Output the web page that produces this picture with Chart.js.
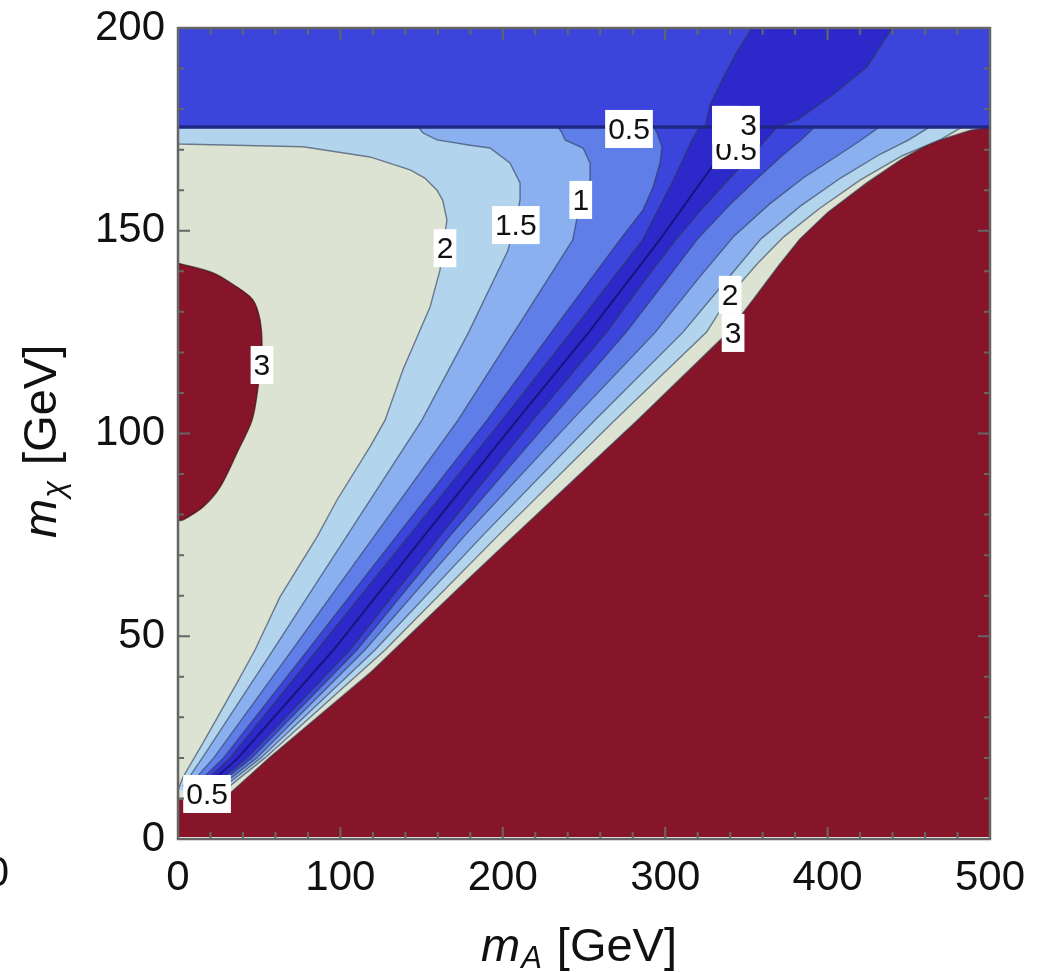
<!DOCTYPE html>
<html>
<head>
<meta charset="utf-8">
<script src="https://cdn.jsdelivr.net/npm/chart.js@4.4.1/dist/chart.umd.min.js"></script>
<style>
  html, body { margin: 0; padding: 0; background: #fff; }
</style>
</head>
<body>
<canvas id="contourChart" width="1046" height="972"></canvas>
<script>
// axis ticks
const xTicks = [0, 100, 200, 300, 400, 500];
const yTicks = [0, 50, 100, 150, 200];
const topEdgeY = 175.6; // discontinuity line (m_chi ~ m_t)

// contour lines, [m_A, m_chi], bottom -> top
const domain = [[0, 0.5], [500, 0.5], [500, 200], [0, 200]];
const edge3 = [[0, 9.6], [20, 10.2], [32, 11.3], [56.7, 20.2], [118, 40.9], [180, 64.6], [204, 73.7], [283, 103.3], [338.8, 125], [355, 133.5], [370, 141.5], [383, 148], [400, 154.5], [424, 161.8], [445, 167.5], [463, 171.6], [488, 174.8], [500, 175.6]];
const blob3 = [[0, 142], [21.6, 139.6], [36.3, 136.1], [46.2, 132.9], [50.5, 128], [51.7, 121.3], [49.3, 111.5], [45.6, 103.3], [36.3, 95.2], [25.9, 86.8], [15.4, 81.9], [3.1, 78.7], [0, 78.5]];

const left2 = [[0, 12.1], [3.1, 15.3], [15.4, 23.7], [36.3, 38.5], [47.4, 46.6], [62.8, 59.7], [85.6, 74.5], [97.9, 83.6], [118.2, 96.7], [127.5, 103.3], [138.5, 115.7], [155.2, 131.2], [161.3, 140.3], [165.6, 152.7], [163, 157.5], [159.5, 160], [152, 163], [142.9, 165], [118.2, 168.2], [77, 170.7], [0, 171.4]];
const right2 = [[27, 11.5], [53.5, 20], [127.5, 46.6], [197.5, 75], [269.1, 103.3], [325.5, 125], [340, 134.2], [357, 142], [373, 148.5], [395, 155.5], [420, 162.5], [446, 168.5], [470, 172.6], [483, 175.6]];

const left15 = [[3, 13], [15, 20], [58.5, 46.6], [104.4, 75], [150.2, 103.3], [179, 125], [203, 145], [207.5, 151.4], [210.6, 157.6], [210.6, 161.8], [204.4, 166.7], [192.1, 170.4], [179.8, 171.1], [159.5, 172.4], [150.9, 174.1], [148, 175.6]];
const right15 = [[25, 11.8], [51, 20], [121.3, 46.6], [188, 75], [256.8, 103.3], [311, 125], [337, 137.5], [359, 148], [383, 156], [408, 163], [432, 168.8], [450, 172.4], [463, 175.6]];

const left1 = [[6, 12.8], [22, 20], [70.2, 46.6], [121.4, 75], [172.4, 103.3], [207, 125], [243, 147.7], [247.5, 156.8], [253.7, 162.5], [253.7, 166.7], [249.4, 170.4], [238.3, 172.4], [236.5, 174.1], [234, 175.6]];
const right1 = [[23, 12], [48.5, 20], [115.1, 46.6], [177, 75], [242.6, 103.3], [294, 125], [320, 138], [342, 148.5], [364, 156.5], [385, 163], [406, 168.5], [420, 172.2], [432, 175.6]];

const left05 = [[9, 12.6], [28, 20], [80, 46.6], [135.2, 75], [190.3, 103.3], [230, 125], [272, 147.7], [286.3, 155.1], [292.5, 160.8], [296.8, 166.7], [298, 170.7], [295, 174.1], [293, 175.6]];
const right05 = [[21, 12.2], [45.5, 20], [110.2, 46.6], [168, 75], [229, 103.3], [276, 125], [300, 137.5], [320, 148], [340, 156.5], [357, 163], [372, 168.5], [384, 172.5], [392, 175.6]];

const leftCore = [[12, 12.5], [32, 20], [85.6, 46.6], [142.6, 75], [199.5, 103.3], [242, 125], [286, 147.7], [305, 162.5], [316, 172], [321, 175.6]];
const rightCore = [[19, 12.3], [42.5, 20], [105.9, 46.6], [162, 75], [218.6, 103.3], [264, 125], [287, 137.5], [307, 148], [324, 156], [340, 163], [354, 169], [364, 173.3], [369, 175.6]];
const coreCenter = [[16, 12.4], [37, 20], [95.7, 46.6], [152, 75], [208.7, 103.3], [253, 125], [296.5, 147.7], [322, 162], [340, 172], [346, 175.6]];

const topBand = [[0, topEdgeY], [500, topEdgeY], [500, 200], [0, 200]];
const topCore = [[324.5, 175.6], [327.6, 181], [335, 187.2], [343, 193.3], [353.4, 200], [439.7, 200], [424.3, 190.4], [401.5, 183], [381.2, 177.3], [368.8, 175.6]];

// contour labels
const labelText = ["0.5", "1", "1.5", "2", "3", "2", "3", "0.5", "0.5", "1.3"];
const labelX = [277.7, 248, 208, 164.4, 51.7, 340, 341.8, 17.9, 343.6, 343.6];
const labelY = [175.1, 157.6, 151.4, 145.7, 116.9, 134.2, 124.8, 11.1, 169.9, 176.1];

const red = "#86152a";
const contourLine = "rgba(45,55,80,0.6)";

function pts(list) {
  return list.map(([x, y]) => ({ x, y }));
}
function band(left, right) {
  return pts([...left, ...right.slice().reverse()]);
}

// bottom -> top
const layers = [
  { data: pts(domain), color: red, width: 0 },
  { data: pts([...edge3, [500, 200], [0, 200]]), color: "#dce3d2" },
  { data: pts(blob3), color: red, border: "rgba(60,20,20,0.7)", tension: 0.3 },
  { data: band([...left2, [0, topEdgeY]], right2), color: "#b3d4ed" },
  { data: band(left15, right15), color: "#8bb0f0" },
  { data: band(left1, right1), color: "#5f7ee8" },
  { data: band(left05, right05), color: "#3b45db" },
  { data: band(leftCore, rightCore), color: "#2c28c9" },
  { data: pts(coreCenter), fill: false, border: "rgba(20,15,110,0.8)", width: 2 },
  { data: pts(topBand), color: "#3b45db", width: 0 },
  { data: pts(topCore), color: "#2c28c9" },
  { data: pts([[0, topEdgeY], [500, topEdgeY]]), fill: false, border: "#1f2785", width: 3.5 },
];

const decorations = {
  id: "decorations",
  afterDatasetsDraw(chart) {
    const { ctx, scales: { x, y } } = chart;
    ctx.save();
    ctx.font = "30px 'Liberation Sans', Arial, sans-serif";
    ctx.textAlign = "center";
    ctx.textBaseline = "middle";
    labelText.forEach((t, i) => {
      const px = x.getPixelForValue(labelX[i]);
      const py = y.getPixelForValue(labelY[i]);
      const w = ctx.measureText(t).width + 6;
      ctx.fillStyle = "#fff";
      ctx.fillRect(px - w / 2, py - 19, w, 38);
      if (i === labelText.length - 1) {
        // the two labels printed on top of each other
        ctx.globalAlpha = 0.25;
        ctx.fillStyle = "#d08a30";
        ctx.fillText(t, px, py + 2);
        ctx.globalAlpha = 1;
        ctx.fillStyle = "#fff";
        ctx.fillRect(px - w / 2, py - 19, w / 2 + 2, 38);
        ctx.fillStyle = "#111";
        ctx.textAlign = "right";
        ctx.fillText("3", px + w / 2 - 3, py + 2);
        ctx.textAlign = "center";
      } else {
        ctx.fillStyle = "#111";
        ctx.fillText(t, px, py + 2);
      }
    });
    ctx.restore();
  },
  afterDraw(chart) {
    const { ctx, chartArea: a, scales: { x, y } } = chart;
    ctx.save();
    ctx.strokeStyle = "#666";
    ctx.lineWidth = 2;
    ctx.beginPath();
    for (let v = 0; v <= 500; v += 20) {
      const px = x.getPixelForValue(v);
      const len = v % 100 === 0 ? 12 : 7;
      ctx.moveTo(px, a.bottom); ctx.lineTo(px, a.bottom - len);
      ctx.moveTo(px, a.top); ctx.lineTo(px, a.top + len);
    }
    for (let v = 0; v <= 200; v += 10) {
      const py = y.getPixelForValue(v);
      const len = v % 50 === 0 ? 12 : 6;
      ctx.moveTo(a.left, py); ctx.lineTo(a.left + len, py);
      ctx.moveTo(a.right, py); ctx.lineTo(a.right - len, py);
    }
    ctx.stroke();
    ctx.lineWidth = 2.5;
    ctx.strokeRect(a.left, a.top, a.right - a.left, a.bottom - a.top);

    // axis titles
    ctx.fillStyle = "#111";
    ctx.textBaseline = "alphabetic";
    ctx.textAlign = "left";
    const fam = "'Liberation Sans', Arial, sans-serif";
    let cx = 481;
    ctx.font = "italic 47px " + fam;
    ctx.fillText("m", cx, 961);
    cx += ctx.measureText("m").width + 1;
    ctx.font = "italic 31px " + fam;
    ctx.fillText("A", cx, 968);
    cx += ctx.measureText("A").width + 15;
    ctx.font = "47px " + fam;
    ctx.fillText("[GeV]", cx, 961);

    ctx.translate(56, 538);
    ctx.rotate(-Math.PI / 2);
    cx = 0;
    ctx.font = "italic 47px " + fam;
    ctx.fillText("m", cx, 0);
    cx += ctx.measureText("m").width + 1;
    ctx.font = "italic 31px " + fam;
    ctx.fillText("\u03c7", cx, 8);
    cx += ctx.measureText("\u03c7").width + 16;
    ctx.font = "47px " + fam;
    ctx.fillText("[GeV]", cx, 0);
    ctx.restore();

    // clipped tick label of the neighbouring panel
    ctx.save();
    ctx.font = "42px " + fam;
    ctx.fillStyle = "#111";
    ctx.textAlign = "right";
    ctx.textBaseline = "middle";
    ctx.fillText("0", 9, 874);
    ctx.restore();
  }
};

const tickFont = { family: "'Liberation Sans', Arial, sans-serif", size: 42 };

function noPadding(s) {
  s.paddingTop = 0;
  s.paddingBottom = 0;
  s.paddingLeft = 0;
  s.paddingRight = 0;
}

new Chart(document.getElementById("contourChart"), {
  type: "scatter",
  data: {
    datasets: layers.map((l, i) => ({
      data: l.data,
      showLine: true,
      fill: l.fill === false ? false : "shape",
      backgroundColor: l.color || "transparent",
      borderColor: l.border || contourLine,
      borderWidth: l.width === undefined ? 1.4 : l.width,
      pointRadius: 0,
      pointHoverRadius: 0,
      tension: l.tension || 0,
      order: layers.length - i,
    })),
  },
  options: {
    responsive: false,
    animation: false,
    events: [],
    layout: { padding: { top: 28, right: 56, left: 0, bottom: 0 } },
    scales: {
      x: {
        type: "linear",
        min: 0,
        max: 500,
        afterFit: (s) => { s.height = 133; noPadding(s); },
        afterBuildTicks: (s) => { s.ticks = xTicks.map((v) => ({ value: v })); },
        ticks: { font: tickFont, color: "#111", padding: 6, maxRotation: 0, autoSkip: false },
        grid: { display: false },
        border: { display: false },
      },
      y: {
        type: "linear",
        min: 0,
        max: 200,
        afterFit: (s) => { s.width = 178; noPadding(s); },
        afterBuildTicks: (s) => { s.ticks = yTicks.map((v) => ({ value: v })); },
        ticks: { font: tickFont, color: "#111", padding: 5 },
        grid: { display: false },
        border: { display: false },
      },
    },
    plugins: {
      legend: { display: false },
      tooltip: { enabled: false },
    },
  },
  plugins: [decorations],
});
</script>
</body>
</html>
